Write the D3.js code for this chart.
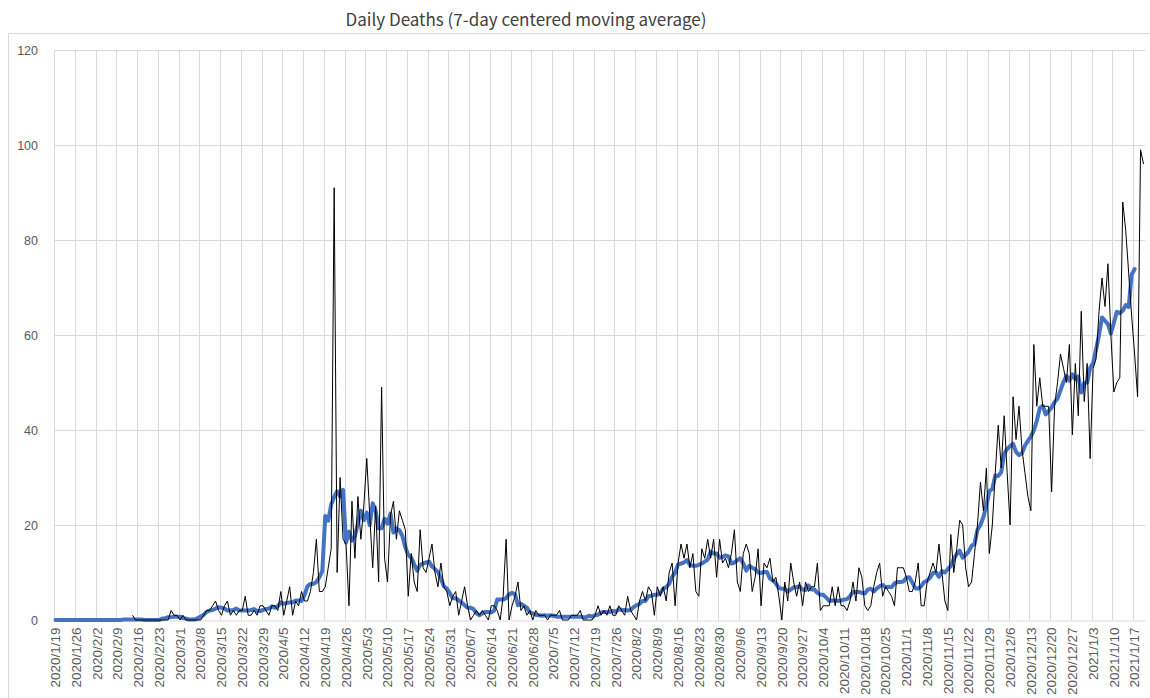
<!DOCTYPE html>
<html>
<head>
<meta charset="utf-8">
<script src="https://cdn.jsdelivr.net/npm/d3@7"></script>
<style>
  body { margin: 0; background: #fff; }
  svg { display: block; font-family: "Noto Sans CJK JP", "Noto Sans", sans-serif; }
</style>
</head>
<body>
<svg id="chart" width="1150" height="698"></svg>
<script>
// Reporting period: one category per day starting here.
const startDate = "2020-01-19";
const dayCount = 368;

// Daily reported deaths (null = no report yet).
const dailyDeaths = [
  null,null,null,null,null,null,null,null,null,null,
  null,null,null,null,null,null,null,null,null,null,
  null,null,null,null,null,null,1,0,0,0,
  0,0,0,0,0,0,0,0,0,2,
  1,1,0,1,0,0,0,0,0,0,
  1,2,2,3,4,2,1,3,4,1,
  2,1,2,2,5,1,1,2,1,3,
  3,2,1,3,3,2,6,1,4,7,
  1,4,3,6,4,4,6,10,17,6,
  6,7,11,15,91,10,30,17,16,3,
  25,13,26,17,24,34,22,11,24,8,
  49,13,8,22,25,17,23,21,19,5,
  14,8,6,19,11,10,13,16,10,7,
  12,7,6,3,5,6,1,4,7,3,
  0,1,2,1,2,1,0,3,3,2,
  0,5,17,0,3,5,8,2,3,1,
  2,0,2,1,1,1,0,1,1,1,
  2,0,0,0,1,1,1,2,0,0,
  0,0,1,3,1,2,1,3,1,1,
  3,2,1,5,2,1,0,4,6,4,
  7,6,1,7,5,7,4,10,12,3,
  12,16,13,16,11,14,6,5,15,13,
  17,13,17,9,17,12,13,11,14,19,
  8,6,14,16,14,6,9,15,3,12,
  11,13,8,9,5,0,8,4,12,8,
  5,8,3,8,6,7,7,12,2,3,
  3,3,7,3,7,3,3,2,4,8,
  4,11,9,3,2,3,7,10,12,5,
  7,6,5,3,11,11,11,9,6,6,
  8,12,3,3,8,10,12,10,16,10,
  4,2,18,10,15,21,20,11,7,8,
  14,20,29,23,32,14,20,31,41,32,
  43,31,20,47,38,45,36,31,26,23,
  58,45,51,45,45,45,27,45,50,56,
  53,50,58,39,54,43,65,46,54,34,
  53,55,65,72,66,75,60,48,50,51,
  88,82,73,64,56,47,99,96
];

// 7-day centered moving average (ends three days before the last report).
const movingAverage = [
  0,0,0,0,0,0,0,0,0,0,
  0,0,0,0,0,0,0,0,0,0,
  0,0,0,0.1,0.1,0.1,0.1,0.1,0.1,0.1,
  0,0,0,0,0,0,0.3,0.4,0.6,0.6,
  0.7,0.7,0.7,0.4,0.3,0.1,0.1,0.1,0.4,0.7,
  1.1,1.7,2.0,2.1,2.4,2.7,2.6,2.4,2.0,2.0,
  2.1,2.4,2.0,2.0,2.0,2.0,2.1,2.3,1.9,1.9,
  2.1,2.3,2.4,2.9,2.6,2.9,3.7,3.4,3.6,3.7,
  3.7,4.1,4.1,4.0,5.3,7.1,7.6,7.6,8.0,9.0,
  10.3,21.9,20.9,24.3,25.9,27.1,26.0,27.4,16.3,18.6,
  16.7,17.7,20.3,23.0,21.0,22.6,20.0,24.6,23.0,19.3,
  19.3,21.3,20.3,22.4,18.4,19.3,18.9,17.7,15.3,13.7,
  13.1,11.7,10.4,11.6,11.9,12.1,12.3,11.3,10.7,10.1,
  8.7,7.1,6.6,5.7,4.6,4.6,4.1,3.7,3.1,2.6,
  2.6,2.3,1.4,1.0,1.4,1.7,1.7,1.6,2.0,4.3,
  4.3,4.3,4.6,5.4,5.7,5.4,3.1,3.4,3.0,2.6,
  1.6,1.4,1.1,1.0,0.9,1.0,0.9,1.0,0.9,0.7,
  0.7,0.7,0.7,0.7,0.7,0.7,0.7,0.7,0.6,0.6,
  0.9,0.7,1.0,1.1,1.6,1.7,1.7,1.7,1.9,1.7,
  2.3,2.1,2.1,2.0,2.1,2.7,3.1,3.4,4.0,4.0,
  5.0,5.1,5.3,5.3,5.7,6.6,6.9,7.6,9.1,10.0,
  11.7,11.9,12.1,12.6,11.6,11.4,11.4,11.6,11.9,12.3,
  12.7,14.4,14.0,14.0,13.1,13.3,13.6,13.4,11.9,12.1,
  12.6,13.0,11.9,10.4,11.4,11.0,10.7,10.0,9.9,10.1,
  10.1,8.7,8.3,7.7,6.7,6.6,6.6,6.0,6.4,6.9,
  6.9,7.1,6.4,6.3,7.3,6.4,6.4,5.7,5.3,5.3,
  4.7,4.0,4.1,4.1,4.0,4.1,4.3,4.4,5.0,5.9,
  5.9,5.9,5.7,5.6,6.4,6.6,6.0,6.6,7.1,7.4,
  6.9,7.0,6.9,7.7,8.0,8.0,8.1,8.9,9.0,7.9,
  6.7,6.6,7.1,8.0,8.3,8.9,9.9,10.0,9.1,10.3,
  10.0,10.7,11.4,12.9,13.9,14.6,13.1,13.7,14.4,15.6,
  16.0,19.0,20.0,21.7,24.1,27.1,27.6,30.4,30.3,31.1,
  35.0,36.0,36.6,37.1,35.4,34.7,35.1,36.7,37.7,38.6,
  39.9,41.9,44.6,45.1,43.3,44.0,44.7,45.9,46.6,48.4,
  50.1,51.4,50.4,51.7,50.7,51.3,47.9,49.9,50.0,53.1,
  54.1,57.0,60.0,63.7,63.0,62.3,60.3,62.6,64.9,64.6,
  65.1,66.3,65.9,72.7,73.9
];

const yTicks = [0, 20, 40, 60, 80, 100, 120];
const labelEvery = 7;   // one axis label / gridline per week
const chartTitle = "Daily Deaths (7-day centered moving average)";

// Category labels in Y/M/D form
const parseDay = d3.utcParse("%Y-%m-%d");
const first = parseDay(startDate);
const days = d3.utcDays(first, d3.utcDay.offset(first, dayCount));
const categories = days.map(d => `${d.getUTCFullYear()}/${d.getUTCMonth() + 1}/${d.getUTCDate()}`);
const weekLabels = categories.filter((c, i) => i % labelEvery === 0);

const plot = { left: 54, right: 1145, top: 50, bottom: 620 };
const gridColor = "#d9d9d9";
const textColor = "#595959";

const svg = d3.select("#chart");

const x = d3.scaleBand().domain(categories).range([plot.left, plot.right]).padding(0);
const y = d3.scaleLinear().domain([0, 120]).range([plot.bottom, plot.top]);
const cx = c => x(c) + x.bandwidth() / 2;

// chart frame
svg.append("path")
  .attr("d", `M8.5,698V33.5H1150`)
  .attr("fill", "none")
  .attr("stroke", gridColor);

// title
svg.append("text")
  .attr("x", 526).attr("y", 26)
  .attr("text-anchor", "middle")
  .attr("font-size", 17)
  .attr("fill", "#404040")
  .text(chartTitle);

// horizontal gridlines
svg.append("g").selectAll("line").data(yTicks.filter(t => t > 0)).join("line")
  .attr("x1", plot.left).attr("x2", plot.right)
  .attr("y1", d => Math.round(y(d)) + 0.5).attr("y2", d => Math.round(y(d)) + 0.5)
  .attr("stroke", gridColor);

// weekly vertical gridlines
svg.append("g").selectAll("line").data(weekLabels).join("line")
  .attr("x1", d => Math.round(x(d)) + 0.5).attr("x2", d => Math.round(x(d)) + 0.5)
  .attr("y1", plot.top).attr("y2", plot.bottom)
  .attr("stroke", gridColor);

// y axis
const yAxis = svg.append("g")
  .attr("transform", `translate(${plot.left},0)`)
  .call(d3.axisLeft(y).tickValues(yTicks).tickSize(0).tickPadding(16));
yAxis.select(".domain").remove();
yAxis.selectAll("text")
  .attr("font-family", null)
  .attr("font-size", 12.5)
  .attr("fill", textColor);

// x axis (category labels, rotated)
const xAxis = svg.append("g")
  .attr("transform", `translate(0,${plot.bottom + 0.5})`)
  .call(d3.axisBottom(x).tickValues(weekLabels).tickSize(0).tickSizeOuter(0));
xAxis.select(".domain").attr("stroke", gridColor);
xAxis.selectAll("text")
  .attr("font-family", null)
  .attr("font-size", 13.5)
  .attr("fill", textColor)
  .attr("transform", "rotate(-90)")
  .attr("text-anchor", "end")
  .attr("x", -7)
  .attr("y", 0)
  .attr("dy", "0.35em");

// moving average (thick blue)
const maLine = d3.line()
  .x((d, i) => cx(categories[i]))
  .y(d => y(d));
svg.append("path")
  .datum(movingAverage)
  .attr("d", maLine)
  .attr("fill", "none")
  .attr("stroke", "#4472C4")
  .attr("stroke-width", 4)
  .attr("stroke-linejoin", "round")
  .attr("stroke-linecap", "round");

// daily deaths (thin black)
const dailyLine = d3.line()
  .defined(d => d !== null)
  .x((d, i) => cx(categories[i]))
  .y(d => y(d));
svg.append("path")
  .datum(dailyDeaths)
  .attr("d", dailyLine)
  .attr("fill", "none")
  .attr("stroke", "#000")
  .attr("stroke-width", 1)
  .attr("stroke-linejoin", "round");
</script>
</body>
</html>
